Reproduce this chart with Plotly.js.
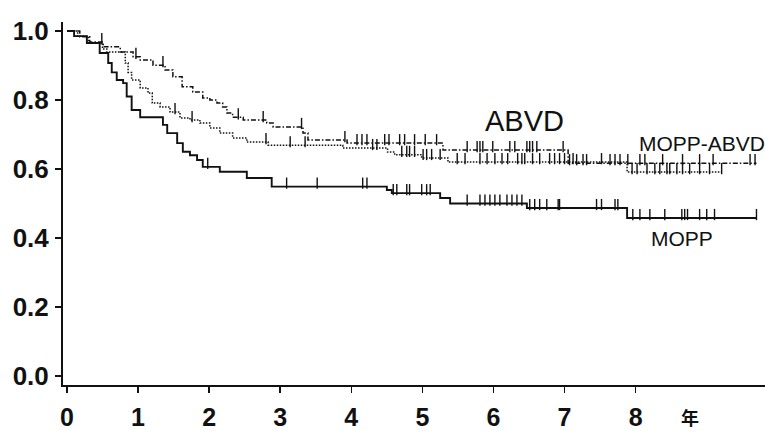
<!DOCTYPE html>
<html><head><meta charset="utf-8">
<script src="https://cdn.plot.ly/plotly-3.0.1.min.js"></script>
<style>html,body{margin:0;padding:0;background:#fff}</style>
</head><body><div id="chart" style="width:765px;height:431px"></div>
<script>
// ---- data (years, survival proportion) ----
const xTickVals = [0, 1, 2, 3, 4, 5, 6, 7, 8];
const yTickVals = [0, 0.2, 0.4, 0.6, 0.8, 1.0];
const yTickText = ['0.0', '0.2', '0.4', '0.6', '0.8', '1.0'];

const abvdTimes = [0, 0.18, 0.32, 0.51, 0.75, 0.93, 1.03, 1.21, 1.38, 1.49, 1.62, 1.77, 1.91, 2.01, 2.11, 2.19, 2.25, 2.33, 2.48, 2.81, 2.90, 3.32, 3.39, 3.94, 5.29, 7.05];
const abvdSurv  = [1.0, 0.983, 0.968, 0.954, 0.939, 0.925, 0.916, 0.901, 0.887, 0.867, 0.838, 0.823, 0.806, 0.800, 0.791, 0.780, 0.762, 0.750, 0.742, 0.733, 0.722, 0.704, 0.684, 0.675, 0.655, 0.617];
const abvdEnd = 9.70;
const abvdCens = [0.49, 0.97, 1.35, 2.41, 2.76, 3.30, 3.91, 4.08, 4.15, 4.22, 4.47, 4.53, 4.68, 4.75, 4.89, 5.04, 5.20, 5.63, 5.77, 5.81, 5.85, 5.99, 6.23, 6.30, 6.47, 6.51, 6.55, 6.61, 6.98, 7.07, 7.17, 7.26, 7.31, 7.64, 7.71, 7.78, 7.89, 8.06, 8.13, 8.38, 8.66, 8.90, 9.09, 9.61, 9.68];

const maTimes = [0, 0.15, 0.30, 0.50, 0.56, 0.82, 0.86, 0.91, 1.03, 1.14, 1.20, 1.31, 1.45, 1.59, 1.73, 1.87, 2.01, 2.15, 2.33, 2.53, 2.83, 3.88, 4.51, 4.61, 4.99, 5.36, 7.88];
const maSurv  = [1.0, 0.985, 0.965, 0.948, 0.939, 0.907, 0.880, 0.858, 0.835, 0.820, 0.791, 0.780, 0.765, 0.748, 0.742, 0.733, 0.719, 0.704, 0.690, 0.678, 0.669, 0.661, 0.649, 0.641, 0.632, 0.620, 0.591];
const maEnd = 9.21;
const maCens = [1.52, 1.76, 2.80, 3.14, 3.35, 4.30, 4.36, 4.71, 4.78, 4.82, 4.89, 5.01, 5.06, 5.13, 5.25, 5.49, 5.60, 5.81, 5.91, 6.02, 6.12, 6.20, 6.34, 6.40, 6.44, 6.55, 6.65, 6.79, 6.86, 6.93, 7.00, 7.12, 7.52, 7.95, 8.02, 8.16, 8.27, 8.34, 8.44, 8.48, 8.58, 8.66, 8.76, 8.90, 9.04, 9.21];

const moppTimes = [0, 0.10, 0.28, 0.46, 0.58, 0.63, 0.70, 0.79, 0.84, 0.91, 1.03, 1.35, 1.41, 1.55, 1.63, 1.73, 1.83, 1.91, 2.15, 2.53, 2.88, 4.50, 4.57, 5.25, 5.39, 6.47, 7.88];
const moppSurv  = [1.0, 0.985, 0.965, 0.936, 0.907, 0.880, 0.858, 0.849, 0.810, 0.771, 0.750, 0.728, 0.704, 0.675, 0.650, 0.640, 0.626, 0.606, 0.592, 0.574, 0.549, 0.539, 0.530, 0.516, 0.500, 0.487, 0.458];
const moppEnd = 9.70;
const moppCens = [1.98, 3.09, 3.52, 4.16, 4.22, 4.59, 4.64, 4.78, 4.82, 4.99, 5.06, 5.11, 5.63, 5.81, 5.88, 5.95, 6.02, 6.09, 6.19, 6.26, 6.33, 6.40, 6.51, 6.58, 6.65, 6.75, 6.91, 6.93, 7.45, 7.52, 7.71, 7.75, 7.96, 8.06, 8.20, 8.41, 8.65, 8.69, 8.73, 8.90, 9.00, 9.11, 9.70];

// ---- helpers ----
function stepAt(times, surv, t) {
  let v = surv[0];
  for (let i = 0; i < times.length; i++) { if (times[i] <= t) v = surv[i]; }
  return v;
}
const INK = '#111';
const CENS_LIFT = 0.010; // lift so censor ticks rise above the line
function curve(times, surv, end, dash, width) {
  return {
    x: times.concat([end]), y: surv.concat([surv[surv.length - 1]]),
    mode: 'lines', line: {shape: 'hv', color: INK, width: width, dash: dash},
    hoverinfo: 'skip', showlegend: false
  };
}
function cens(times, surv, ct) {
  return {
    x: ct, y: ct.map(t => stepAt(times, surv, t) + CENS_LIFT),
    mode: 'markers', marker: {symbol: 'line-ns', size: 8, line: {color: INK, width: 1.4}},
    hoverinfo: 'skip', showlegend: false, cliponaxis: false
  };
}

const traces = [
  curve(moppTimes, moppSurv, moppEnd, 'solid', 1.9),
  curve(maTimes, maSurv, maEnd, '1.5px,1.5px', 1.5),
  curve(abvdTimes, abvdSurv, abvdEnd, '5px,2px,1.5px,2px', 1.5),
  cens(moppTimes, moppSurv, moppCens),
  cens(maTimes, maSurv, maCens),
  cens(abvdTimes, abvdSurv, abvdCens)
];

const xTickFont = {family: 'Liberation Sans, Arial, sans-serif', size: 25, color: INK, weight: 'bold'};
const yTickFont = {family: 'Liberation Sans, Arial, sans-serif', size: 26, color: INK, weight: 'bold'};
const layout = {
  width: 765, height: 431,
  margin: {l: 63, r: 0, t: 22, b: 46},
  paper_bgcolor: '#fff', plot_bgcolor: '#fff',
  xaxis: {
    range: [-0.056, 9.82], tickvals: xTickVals, ticks: 'outside', ticklen: 6, tickwidth: 1.5, tickcolor: INK,
    showline: true, linewidth: 2, linecolor: INK, showgrid: false, zeroline: false,
    tickfont: xTickFont, ticklabelstandoff: 3
  },
  yaxis: {
    range: [-0.026, 1.026], tickvals: yTickVals, ticktext: yTickText, ticks: 'outside', ticklen: 6, tickwidth: 1.5, tickcolor: INK,
    showline: true, linewidth: 2, linecolor: INK, showgrid: false, zeroline: false,
    tickfont: yTickFont, ticklabelstandoff: 1
  },
  annotations: [
    {x: 6.44, y: 0.739, xref: 'x', yref: 'y', text: 'ABVD', showarrow: false,
     font: {family: 'Liberation Sans, Arial, sans-serif', size: 29, color: INK}},
    {x: 8.93, y: 0.675, xref: 'x', yref: 'y', text: 'MOPP-ABVD', showarrow: false,
     font: {family: 'Liberation Sans, Arial, sans-serif', size: 21, color: INK}},
    {x: 8.65, y: 0.40, xref: 'x', yref: 'y', text: 'MOPP', showarrow: false,
     font: {family: 'Liberation Sans, Arial, sans-serif', size: 21, color: INK}},
    {x: 8.76, y: -0.088, xref: 'x', yref: 'paper', xanchor: 'center', yanchor: 'middle', text: '年', showarrow: false,
     font: {family: 'Noto Sans CJK JP, sans-serif', size: 18, color: INK, weight: 'bold'}}
  ]
};
Plotly.newPlot('chart', traces, layout, {displayModeBar: false, staticPlot: true});
</script>
</body></html>
